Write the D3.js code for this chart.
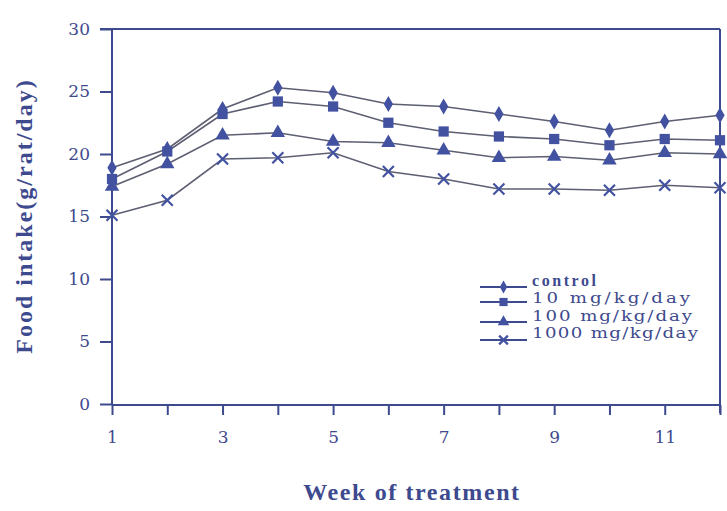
<!DOCTYPE html>
<html>
<head>
<meta charset="utf-8">
<script src="https://cdn.jsdelivr.net/npm/d3@7"></script>
<style>
  body { margin: 0; background: #fff; }
  svg { display: block; font-family: "DejaVu Serif", "Liberation Serif", serif; }
</style>
</head>
<body>
<svg id="chart" width="727" height="511"></svg>
<script>
const weeks = [1, 2, 3, 4, 5, 6, 7, 8, 9, 10, 11, 12];
const weekLabels = [1, 3, 5, 7, 9, 11];
const yTicks = [0, 5, 10, 15, 20, 25, 30];

const control = [18.9, 20.4, 23.6, 25.3, 24.9, 24.0, 23.8, 23.2, 22.6, 21.9, 22.6, 23.1];
const dose10 = [18.0, 20.2, 23.2, 24.2, 23.8, 22.5, 21.8, 21.4, 21.2, 20.7, 21.2, 21.1];
const dose100 = [17.4, 19.2, 21.5, 21.7, 21.0, 20.9, 20.3, 19.7, 19.8, 19.5, 20.1, 20.0];
const dose1000 = [15.1, 16.3, 19.6, 19.7, 20.1, 18.6, 18.0, 17.2, 17.2, 17.1, 17.5, 17.3];

const seriesNames = ["control", "10 mg/kg/day", "100 mg/kg/day", "1000 mg/kg/day"];
const seriesValues = [control, dose10, dose100, dose1000];
const symbols = ["diamond", "square", "triangle", "cross"];

const ink = "#3e4a8e";
const markFill = "#4252a0";
const lineCol = "#5d5f72";

const svg = d3.select("#chart");
const x = d3.scaleLinear().domain([1, 12]).range([112, 720]);
const y = d3.scaleLinear().domain([0, 30]).range([404, 29]);
const bottom = 405;

// frame
svg.append("line").attr("x1", x(1)).attr("x2", x(1)).attr("y1", y(30)).attr("y2", bottom)
  .attr("stroke", ink).attr("stroke-width", 2);
svg.append("line").attr("x1", x(12)).attr("x2", x(12)).attr("y1", y(30)).attr("y2", bottom + 8)
  .attr("stroke", ink).attr("stroke-width", 2);
svg.append("line").attr("x1", x(1) - 12).attr("x2", x(12)).attr("y1", y(30)).attr("y2", y(30))
  .attr("stroke", ink).attr("stroke-width", 2);
svg.append("line").attr("x1", x(1)).attr("x2", x(12)).attr("y1", bottom).attr("y2", bottom)
  .attr("stroke", ink).attr("stroke-width", 2);

// y axis
const yAxis = svg.append("g").attr("transform", `translate(${x(1)},0)`)
  .call(d3.axisLeft(y).tickValues(yTicks).tickSize(12).tickPadding(10));
yAxis.select(".domain").remove();
yAxis.selectAll("line").attr("stroke", ink).attr("stroke-width", 2);
yAxis.selectAll("text").attr("fill", ink).attr("font-size", 17)
  .attr("font-family", "DejaVu Serif, serif");

// x axis
const xAxis = svg.append("g").attr("transform", `translate(0,${bottom})`)
  .call(d3.axisBottom(x).tickValues(weeks).tickSize(10).tickPadding(16)
    .tickFormat(d => weekLabels.includes(d) ? d : ""));
xAxis.select(".domain").remove();
xAxis.selectAll("line").attr("stroke", ink).attr("stroke-width", 2);
xAxis.selectAll("text").attr("fill", ink).attr("font-size", 17)
  .attr("font-family", "DejaVu Serif, serif");

// titles
svg.append("text").attr("x", 412).attr("y", 500).attr("text-anchor", "middle")
  .attr("fill", ink).attr("font-size", 24).attr("font-weight", "bold")
  .attr("font-family", "Liberation Serif, serif").attr("letter-spacing", 1.6)
  .text("Week of treatment");
svg.append("text").attr("transform", "translate(32,216) rotate(-90)").attr("text-anchor", "middle")
  .attr("fill", ink).attr("font-size", 24).attr("font-weight", "bold")
  .attr("font-family", "Liberation Serif, serif").attr("letter-spacing", 2)
  .text("Food intake(g/rat/day)");

function drawMarker(g, type, cx, cy, scale = 1) {
  if (type === "cross") {
    const r = 5.5 * scale;
    g.append("path")
      .attr("d", `M${cx - r},${cy - r}L${cx + r},${cy + r}M${cx - r},${cy + r}L${cx + r},${cy - r}`)
      .attr("stroke", markFill).attr("stroke-width", 2.2).attr("fill", "none");
    return;
  }
  const sym = { diamond: d3.symbolDiamond, square: d3.symbolSquare, triangle: d3.symbolTriangle }[type];
  const size = { diamond: 75, square: 105, triangle: 90 }[type] * scale * scale;
  g.append("path").attr("d", d3.symbol().type(sym).size(size)())
    .attr("transform", `translate(${cx},${cy})`)
    .attr("fill", markFill);
}

const line = d3.line().x((d, i) => x(weeks[i])).y(d => y(d));

seriesValues.forEach(vals => {
  svg.append("path").datum(vals).attr("d", line)
    .attr("fill", "none").attr("stroke", lineCol).attr("stroke-width", 1.6);
});
seriesValues.forEach((vals, s) => {
  const g = svg.append("g");
  vals.forEach((v, i) => drawMarker(g, symbols[s], x(weeks[i]), y(v)));
});

// legend
const legLineY = [287, 302, 322, 340];
const legTextY = [280, 298, 316, 333];
const legWidth = [64, 158, 160, 166];
const stretch = 1.3;
seriesNames.forEach((name, i) => {
  const g = svg.append("g");
  g.append("line").attr("x1", 480).attr("x2", 527).attr("y1", legLineY[i]).attr("y2", legLineY[i])
    .attr("stroke", ink).attr("stroke-width", 2);
  drawMarker(g, symbols[i], 503.5, legLineY[i], 0.8);
  const t = g.append("text").attr("dy", "0.35em").attr("fill", ink).text(name);
  if (i === 0) {
    t.attr("x", 532).attr("y", legTextY[i])
      .attr("font-size", 16).attr("font-weight", "bold")
      .attr("font-family", "Liberation Serif, serif")
      .attr("textLength", legWidth[i]).attr("lengthAdjust", "spacing");
  } else {
    t.attr("transform", `translate(532,${legTextY[i]}) scale(${stretch},1)`)
      .attr("font-size", 14)
      .attr("font-family", "DejaVu Serif, serif")
      .attr("textLength", legWidth[i] / stretch).attr("lengthAdjust", "spacing");
  }
});
</script>
</body>
</html>
